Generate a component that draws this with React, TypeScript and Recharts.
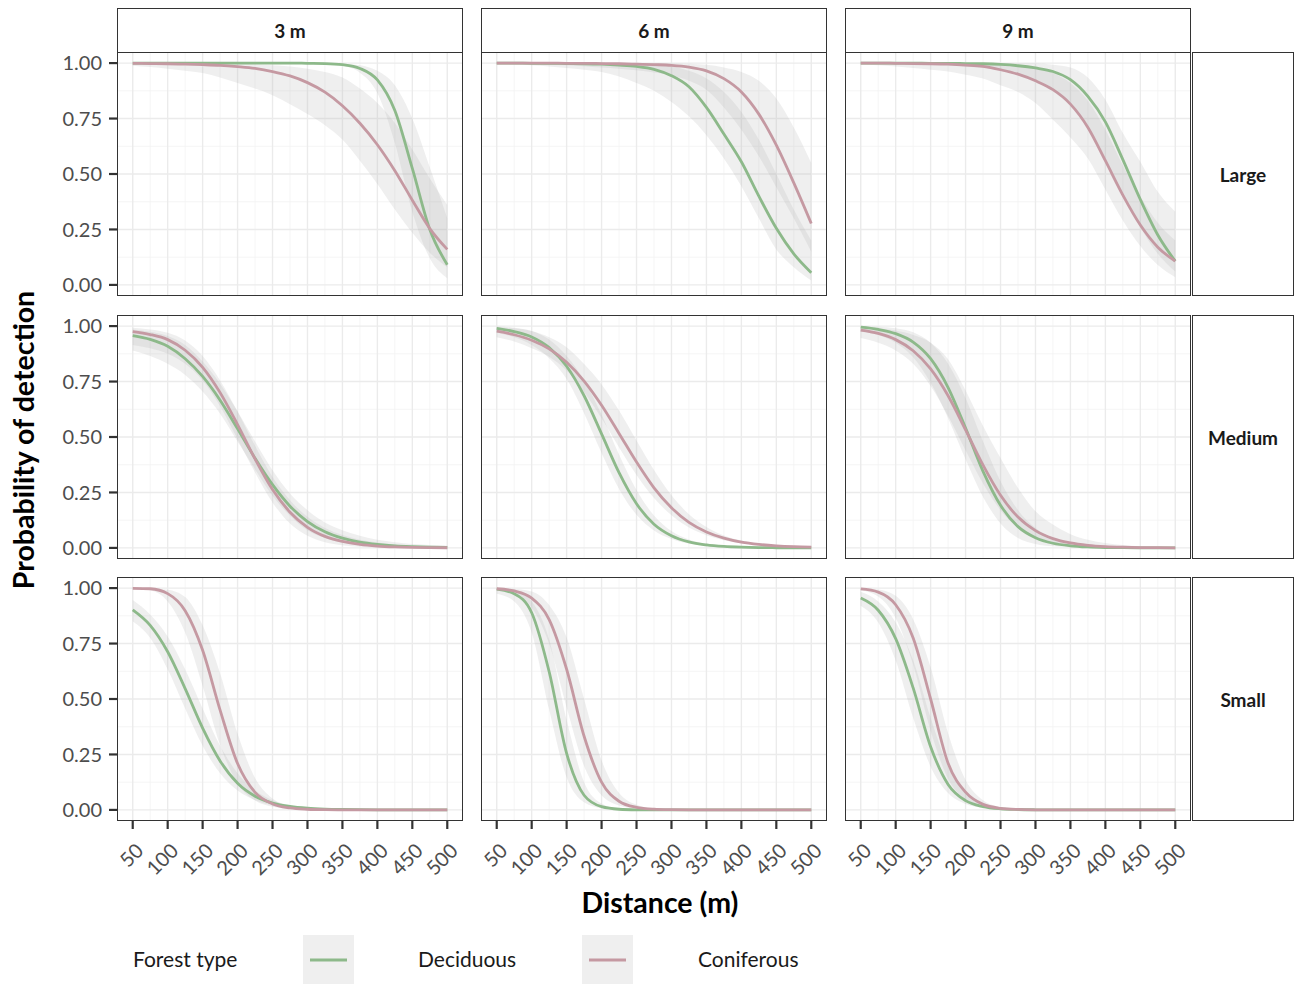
import React from "react";
import { ComposedChart, Line, Area, XAxis, YAxis, CartesianGrid } from "recharts";

// Distances (m) at which detection probability is tabulated
const distance = [50, 75, 100, 125, 150, 175, 200, 225, 250, 275, 300, 325, 350, 375, 400, 425, 450, 475, 500];
const distanceTicks = [50, 100, 150, 200, 250, 300, 350, 400, 450, 500];
const distanceMinor = [75, 125, 175, 225, 275, 325, 375, 425, 475];
const probTicks = [0, 0.25, 0.5, 0.75, 1];
const probMinor = [0.125, 0.375, 0.625, 0.875];
const heightLabels = ["3 m", "6 m", "9 m"];
const sizeLabels = ["Large", "Medium", "Small"];
const forestTypes = ["Deciduous", "Coniferous"];

// ---- Large, 3 m
const large3Dec = [1, 1, 1, 1, 1, 1, 1, 1, 1, 1, 0.999, 0.998, 0.993, 0.976, 0.924, 0.786, 0.525, 0.25, 0.091];
const large3DecLo = [1, 1, 1, 1, 1, 1, 1, 1, 1, 1, 0.999, 0.9965, 0.988, 0.957, 0.865, 0.64, 0.33, 0.12, 0.03];
const large3DecHi = [1, 1, 1, 1, 1, 1, 1, 1, 1, 1, 1, 0.999, 0.997, 0.99, 0.965, 0.9, 0.75, 0.53, 0.3];
const large3Con = [0.999, 0.998, 0.997, 0.995, 0.993, 0.99, 0.984, 0.976, 0.962, 0.942, 0.912, 0.869, 0.808, 0.729, 0.632, 0.515, 0.382, 0.254, 0.16];
const large3ConLo = [0.988, 0.982, 0.975, 0.966, 0.955, 0.935, 0.91, 0.885, 0.855, 0.815, 0.77, 0.72, 0.655, 0.56, 0.455, 0.34, 0.235, 0.145, 0.08];
const large3ConHi = [1, 1, 1, 1, 0.999, 0.998, 0.997, 0.995, 0.99, 0.985, 0.975, 0.96, 0.935, 0.885, 0.82, 0.73, 0.61, 0.48, 0.36];

// ---- Large, 6 m
const large6Dec = [1, 1, 0.999, 0.999, 0.998, 0.997, 0.995, 0.991, 0.985, 0.972, 0.943, 0.893, 0.8, 0.68, 0.555, 0.4, 0.255, 0.14, 0.055];
const large6DecLo = [0.998, 0.995, 0.99, 0.985, 0.978, 0.97, 0.96, 0.94, 0.91, 0.875, 0.825, 0.76, 0.675, 0.57, 0.445, 0.3, 0.16, 0.08, 0.02];
const large6DecHi = [1, 1, 1, 1, 1, 1, 1, 0.999, 0.998, 0.995, 0.985, 0.965, 0.93, 0.87, 0.78, 0.655, 0.5, 0.34, 0.2];
const large6Con = [1, 1, 1, 1, 0.999, 0.999, 0.998, 0.997, 0.995, 0.993, 0.99, 0.982, 0.965, 0.93, 0.87, 0.77, 0.63, 0.46, 0.277];
const large6ConLo = [0.999, 0.998, 0.997, 0.994, 0.99, 0.986, 0.98, 0.975, 0.968, 0.958, 0.945, 0.92, 0.88, 0.8, 0.7, 0.58, 0.44, 0.3, 0.15];
const large6ConHi = [1, 1, 1, 1, 1, 1, 1, 1, 1, 1, 0.999, 0.997, 0.992, 0.98, 0.96, 0.92, 0.84, 0.71, 0.55];

// ---- Large, 9 m
const large9Dec = [1, 1, 1, 1, 0.999, 0.999, 0.998, 0.997, 0.994, 0.988, 0.978, 0.962, 0.925, 0.85, 0.735, 0.565, 0.385, 0.225, 0.107];
const large9DecLo = [0.999, 0.998, 0.997, 0.995, 0.993, 0.99, 0.985, 0.978, 0.968, 0.95, 0.925, 0.88, 0.81, 0.71, 0.57, 0.41, 0.26, 0.14, 0.06];
const large9DecHi = [1, 1, 1, 1, 1, 1, 1, 1, 1, 0.999, 0.998, 0.993, 0.98, 0.935, 0.835, 0.685, 0.555, 0.42, 0.33];
const large9Con = [1, 1, 0.999, 0.998, 0.997, 0.995, 0.991, 0.985, 0.97, 0.95, 0.92, 0.88, 0.815, 0.71, 0.56, 0.405, 0.27, 0.17, 0.107];
const large9ConLo = [0.995, 0.99, 0.985, 0.978, 0.97, 0.962, 0.948, 0.93, 0.9, 0.87, 0.82, 0.745, 0.665, 0.57, 0.43, 0.29, 0.175, 0.09, 0.035];
const large9ConHi = [1, 1, 1, 1, 1, 0.999, 0.999, 0.998, 0.997, 0.99, 0.98, 0.955, 0.91, 0.83, 0.7, 0.54, 0.4, 0.28, 0.2];

// ---- Medium, 3 m
const medium3Dec = [0.957, 0.94, 0.909, 0.853, 0.773, 0.666, 0.537, 0.404, 0.285, 0.188, 0.119, 0.073, 0.044, 0.026, 0.0155, 0.009, 0.0054, 0.0031, 0.0018];
const medium3DecLo = [0.89, 0.865, 0.83, 0.78, 0.705, 0.605, 0.48, 0.355, 0.235, 0.145, 0.08, 0.045, 0.024, 0.013, 0.007, 0.004, 0.002, 0.001, 0.0005];
const medium3DecHi = [0.985, 0.974, 0.955, 0.915, 0.84, 0.74, 0.615, 0.48, 0.35, 0.245, 0.17, 0.115, 0.08, 0.055, 0.037, 0.026, 0.018, 0.013, 0.01];
const medium3Con = [0.975, 0.962, 0.939, 0.891, 0.814, 0.7, 0.556, 0.401, 0.263, 0.161, 0.093, 0.052, 0.029, 0.0155, 0.0083, 0.0045, 0.0024, 0.0013, 0.0007];
const medium3ConLo = [0.915, 0.9, 0.875, 0.83, 0.755, 0.64, 0.49, 0.34, 0.205, 0.11, 0.055, 0.026, 0.012, 0.005, 0.002, 0.001, 0.0005, 0.0002, 0.0001];
const medium3ConHi = [0.993, 0.985, 0.97, 0.935, 0.865, 0.755, 0.615, 0.46, 0.32, 0.215, 0.14, 0.09, 0.058, 0.037, 0.024, 0.015, 0.01, 0.006, 0.004];

// ---- Medium, 6 m
const medium6Dec = [0.99, 0.975, 0.951, 0.903, 0.819, 0.686, 0.514, 0.339, 0.199, 0.107, 0.055, 0.027, 0.0135, 0.0066, 0.0032, 0.0015, 0.0008, 0.0004, 0.0002];
const medium6DecLo = [0.97, 0.95, 0.915, 0.855, 0.761, 0.607, 0.428, 0.266, 0.149, 0.078, 0.04, 0.0195, 0.0096, 0.0047, 0.0023, 0.0011, 0.0005, 0.0003, 0.0001];
const medium6DecHi = [0.998, 0.993, 0.978, 0.94, 0.865, 0.756, 0.601, 0.421, 0.261, 0.146, 0.076, 0.038, 0.019, 0.0093, 0.0045, 0.0022, 0.0011, 0.0005, 0.0003];
const medium6Con = [0.977, 0.961, 0.936, 0.897, 0.837, 0.752, 0.643, 0.516, 0.387, 0.271, 0.181, 0.115, 0.072, 0.044, 0.026, 0.0157, 0.0094, 0.0055, 0.0033];
const medium6ConLo = [0.95, 0.93, 0.9, 0.862, 0.8, 0.703, 0.584, 0.453, 0.329, 0.225, 0.147, 0.092, 0.057, 0.034, 0.0206, 0.0123, 0.0073, 0.0043, 0.0026];
const medium6ConHi = [0.995, 0.99, 0.978, 0.95, 0.905, 0.829, 0.737, 0.619, 0.484, 0.351, 0.237, 0.152, 0.094, 0.056, 0.033, 0.0195, 0.0113, 0.0066, 0.0038];

// ---- Medium, 9 m
const medium9Dec = [0.995, 0.985, 0.966, 0.928, 0.853, 0.723, 0.54, 0.345, 0.192, 0.096, 0.046, 0.021, 0.0096, 0.0043, 0.0019, 0.0009, 0.0004, 0.0002, 0.0001];
const medium9DecLo = [0.975, 0.96, 0.925, 0.86, 0.745, 0.585, 0.4, 0.23, 0.11, 0.045, 0.018, 0.007, 0.003, 0.001, 0.0005, 0.0002, 0.0001, 0.0001, 0.0001];
const medium9DecHi = [0.999, 0.997, 0.99, 0.972, 0.925, 0.83, 0.675, 0.48, 0.3, 0.17, 0.09, 0.045, 0.022, 0.01, 0.005, 0.0025, 0.0012, 0.0006, 0.0003];
const medium9Con = [0.982, 0.967, 0.939, 0.889, 0.807, 0.686, 0.532, 0.373, 0.237, 0.139, 0.078, 0.042, 0.0225, 0.0119, 0.0062, 0.0033, 0.0017, 0.0009, 0.0005];
const medium9ConLo = [0.946, 0.925, 0.89, 0.83, 0.73, 0.595, 0.44, 0.29, 0.17, 0.09, 0.045, 0.022, 0.01, 0.005, 0.0022, 0.001, 0.0005, 0.0002, 0.0001];
const medium9ConHi = [0.995, 0.99, 0.98, 0.96, 0.925, 0.85, 0.71, 0.55, 0.405, 0.27, 0.165, 0.105, 0.062, 0.037, 0.022, 0.013, 0.008, 0.005, 0.003];

// ---- Small, 3 m
const small3Dec = [0.902, 0.832, 0.713, 0.547, 0.369, 0.221, 0.12, 0.062, 0.031, 0.0154, 0.0075, 0.0036, 0.0018, 0.0009, 0.0004, 0.0002, 0.0001, 0.0001, 0.0001];
const small3DecLo = [0.85, 0.775, 0.634, 0.457, 0.289, 0.165, 0.087, 0.044, 0.022, 0.0108, 0.0052, 0.0025, 0.0012, 0.0006, 0.0003, 0.0001, 0.0001, 0.0001, 0.0001];
const small3DecHi = [0.946, 0.881, 0.782, 0.634, 0.457, 0.289, 0.165, 0.087, 0.044, 0.022, 0.0108, 0.0052, 0.0025, 0.0012, 0.0006, 0.0003, 0.0002, 0.0001, 0.0001];
const small3Con = [0.999, 0.997, 0.975, 0.898, 0.72, 0.45, 0.209, 0.079, 0.027, 0.009, 0.003, 0.001, 0.0005, 0.0002, 0.0001, 0.0001, 0.0001, 0.0001, 0.0001];
const small3ConLo = [0.998, 0.99, 0.94, 0.8, 0.56, 0.293, 0.119, 0.042, 0.014, 0.0045, 0.0015, 0.0005, 0.0002, 0.0001, 0.0001, 0.0001, 0.0001, 0.0001, 0.0001];
const small3ConHi = [1, 0.999, 0.993, 0.96, 0.832, 0.616, 0.343, 0.144, 0.052, 0.0175, 0.0058, 0.0019, 0.0006, 0.0002, 0.0001, 0.0001, 0.0001, 0.0001, 0.0001];

// ---- Small, 6 m
const small6Dec = [0.995, 0.975, 0.889, 0.623, 0.255, 0.066, 0.0145, 0.003, 0.0006, 0.0001, 0.0001, 0.0001, 0.0001, 0.0001, 0.0001, 0.0001, 0.0001, 0.0001, 0.0001];
const small6DecLo = [0.975, 0.94, 0.8, 0.453, 0.147, 0.034, 0.0073, 0.0015, 0.0003, 0.0001, 0.0001, 0.0001, 0.0001, 0.0001, 0.0001, 0.0001, 0.0001, 0.0001, 0.0001];
const small6DecHi = [0.999, 0.992, 0.941, 0.768, 0.406, 0.125, 0.029, 0.006, 0.0013, 0.0003, 0.0001, 0.0001, 0.0001, 0.0001, 0.0001, 0.0001, 0.0001, 0.0001, 0.0001];
const small6Con = [0.997, 0.987, 0.955, 0.858, 0.634, 0.332, 0.125, 0.039, 0.0115, 0.0033, 0.001, 0.0003, 0.0001, 0.0001, 0.0001, 0.0001, 0.0001, 0.0001, 0.0001];
const small6ConLo = [0.992, 0.973, 0.913, 0.75, 0.463, 0.198, 0.066, 0.0198, 0.0058, 0.0017, 0.0005, 0.0001, 0.0001, 0.0001, 0.0001, 0.0001, 0.0001, 0.0001, 0.0001];
const small6ConHi = [0.999, 0.996, 0.985, 0.924, 0.777, 0.5, 0.223, 0.076, 0.023, 0.0067, 0.0019, 0.0005, 0.0001, 0.0001, 0.0001, 0.0001, 0.0001, 0.0001, 0.0001];

// ---- Small, 9 m
const small9Dec = [0.955, 0.9, 0.772, 0.55, 0.285, 0.115, 0.042, 0.015, 0.005, 0.0018, 0.0006, 0.0002, 0.0001, 0.0001, 0.0001, 0.0001, 0.0001, 0.0001, 0.0001];
const small9DecLo = [0.92, 0.845, 0.675, 0.415, 0.195, 0.076, 0.027, 0.0096, 0.0033, 0.0011, 0.0004, 0.0001, 0.0001, 0.0001, 0.0001, 0.0001, 0.0001, 0.0001, 0.0001];
const small9DecHi = [0.983, 0.94, 0.845, 0.675, 0.415, 0.195, 0.076, 0.027, 0.0096, 0.0033, 0.0011, 0.0004, 0.0001, 0.0001, 0.0001, 0.0001, 0.0001, 0.0001, 0.0001];
const small9Con = [0.996, 0.982, 0.925, 0.775, 0.5, 0.21, 0.08, 0.025, 0.0074, 0.0022, 0.0006, 0.0002, 0.0001, 0.0001, 0.0001, 0.0001, 0.0001, 0.0001, 0.0001];
const small9ConLo = [0.99, 0.962, 0.865, 0.654, 0.357, 0.14, 0.046, 0.014, 0.0041, 0.0012, 0.0004, 0.0001, 0.0001, 0.0001, 0.0001, 0.0001, 0.0001, 0.0001, 0.0001];
const small9ConHi = [0.999, 0.994, 0.965, 0.86, 0.643, 0.346, 0.135, 0.044, 0.013, 0.0039, 0.0012, 0.0004, 0.0001, 0.0001, 0.0001, 0.0001, 0.0001, 0.0001, 0.0001];

type Series = { dec: number[]; decLo: number[]; decHi: number[]; con: number[]; conLo: number[]; conHi: number[] };

// facet grid: rows = target size, columns = height
const facets: Series[][] = [
  [
    { dec: large3Dec, decLo: large3DecLo, decHi: large3DecHi, con: large3Con, conLo: large3ConLo, conHi: large3ConHi },
    { dec: large6Dec, decLo: large6DecLo, decHi: large6DecHi, con: large6Con, conLo: large6ConLo, conHi: large6ConHi },
    { dec: large9Dec, decLo: large9DecLo, decHi: large9DecHi, con: large9Con, conLo: large9ConLo, conHi: large9ConHi },
  ],
  [
    { dec: medium3Dec, decLo: medium3DecLo, decHi: medium3DecHi, con: medium3Con, conLo: medium3ConLo, conHi: medium3ConHi },
    { dec: medium6Dec, decLo: medium6DecLo, decHi: medium6DecHi, con: medium6Con, conLo: medium6ConLo, conHi: medium6ConHi },
    { dec: medium9Dec, decLo: medium9DecLo, decHi: medium9DecHi, con: medium9Con, conLo: medium9ConLo, conHi: medium9ConHi },
  ],
  [
    { dec: small3Dec, decLo: small3DecLo, decHi: small3DecHi, con: small3Con, conLo: small3ConLo, conHi: small3ConHi },
    { dec: small6Dec, decLo: small6DecLo, decHi: small6DecHi, con: small6Con, conLo: small6ConLo, conHi: small6ConHi },
    { dec: small9Dec, decLo: small9DecLo, decHi: small9DecHi, con: small9Con, conLo: small9ConLo, conHi: small9ConHi },
  ],
];

const FONT = "Lato, 'DejaVu Sans', sans-serif";
const DECIDUOUS = "#8db98a";
const CONIFEROUS = "#c599a2";
const RIBBON = "#b0b0b0";
const BORDER = "#333333";

const COL_LEFT = [117, 481, 845];
const ROW_TOP = [52, 315, 577];
const PANEL_W = 346;
const PANEL_H = 244;
const Y_AXIS_W = 117;
const SIDE_PAD = 40;
const TOP_PAD = 14;
const X_AXIS_H = 80;

function buildRows(s: Series) {
  return distance.map((d, i) => ({
    d,
    dec: s.dec[i],
    con: s.con[i],
    decBand: [s.decLo[i], s.decHi[i]],
    conBand: [s.conLo[i], s.conHi[i]],
  }));
}

// x tick labels turned 45 degrees, top-right corner hanging under the tick
const RotatedTick = (props: any) => {
  const { x, y, payload } = props;
  const ax = x + 12;
  const ay = y + 21;
  return (
    <text
      x={ax}
      y={ay}
      transform={`rotate(-45 ${ax} ${ay})`}
      textAnchor="end"
      fill="#4d4d4d"
      fontSize={20}
      fontFamily={FONT}
    >
      {payload.value}
    </text>
  );
};

// y tick labels with two decimals, right-aligned against the tick marks
const ProbTick = (props: any) => {
  const { x, y, payload } = props;
  return (
    <text x={x} y={y} dy="0.36em" textAnchor="end" fill="#4d4d4d" fontSize={20} fontFamily={FONT}>
      {Number(payload.value).toFixed(2)}
    </text>
  );
};

function Panel({ row, col }: { row: number; col: number }) {
  const showY = col === 0;
  const showX = row === 2;
  const leftPad = showY ? Y_AXIS_W : SIDE_PAD;
  const xH = showX ? X_AXIS_H : 0;
  const w = PANEL_W + leftPad;
  const h = TOP_PAD + PANEL_H + xH;
  const rows = buildRows(facets[row][col]);
  return (
    <div
      style={{
        position: "absolute",
        left: COL_LEFT[col] - leftPad,
        top: ROW_TOP[row] - TOP_PAD,
        width: w,
        height: h,
      }}
    >
      <ComposedChart
        width={w}
        height={h}
        data={rows}
        margin={{ top: TOP_PAD, right: 0, bottom: 0, left: showY ? 0 : SIDE_PAD }}
      >
        <CartesianGrid horizontalValues={probMinor} verticalValues={distanceMinor} stroke="#f3f3f3" strokeWidth={0.8} />
        <CartesianGrid horizontalValues={probTicks} verticalValues={distanceTicks} stroke="#ebebeb" strokeWidth={1.4} />
        <XAxis
          dataKey="d"
          type="number"
          domain={[27.5, 522.5]}
          ticks={distanceTicks}
          hide={!showX}
          height={xH}
          axisLine={false}
          tickSize={8}
          tickLine={{ stroke: BORDER, strokeWidth: 2.2 }}
          tick={<RotatedTick />}
          interval={0}
        />
        <YAxis
          type="number"
          domain={[-0.05, 1.05]}
          ticks={probTicks}
          hide={!showY}
          width={showY ? Y_AXIS_W : 0}
          axisLine={false}
          tickSize={8}
          tickMargin={7}
          tickLine={{ stroke: BORDER, strokeWidth: 2.2 }}
          tick={<ProbTick />}
          interval={0}
        />
        <Area type="monotone" dataKey="decBand" fill={RIBBON} fillOpacity={0.2} stroke="none" isAnimationActive={false} />
        <Area type="monotone" dataKey="conBand" fill={RIBBON} fillOpacity={0.2} stroke="none" isAnimationActive={false} />
        <Line type="monotone" dataKey="dec" stroke={DECIDUOUS} strokeWidth={2.8} dot={false} isAnimationActive={false} />
        <Line type="monotone" dataKey="con" stroke={CONIFEROUS} strokeWidth={2.8} dot={false} isAnimationActive={false} />
      </ComposedChart>
      <div
        style={{
          position: "absolute",
          left: leftPad,
          top: TOP_PAD,
          width: PANEL_W,
          height: PANEL_H,
          border: `1.5px solid ${BORDER}`,
          boxSizing: "border-box",
          pointerEvents: "none",
        }}
      />
    </div>
  );
}

const stripStyle: React.CSSProperties = {
  position: "absolute",
  border: `1.5px solid ${BORDER}`,
  boxSizing: "border-box",
  background: "#ffffff",
  display: "flex",
  alignItems: "center",
  justifyContent: "center",
  fontFamily: FONT,
  fontWeight: 700,
  fontSize: 19,
  color: "#1a1a1a",
};

export default function App() {
  return (
    <div style={{ position: "fixed", left: 0, top: 0, width: 1300, height: 984, background: "#ffffff", overflow: "hidden" }}>
      {[0, 1, 2].map((r) => [0, 1, 2].map((c) => <Panel key={`${r}-${c}`} row={r} col={c} />))}
      {heightLabels.map((lab, c) => (
        <div key={lab} style={{ ...stripStyle, left: COL_LEFT[c], top: 8, width: PANEL_W, height: 45 }}>
          {lab}
        </div>
      ))}
      {sizeLabels.map((lab, r) => (
        <div key={lab} style={{ ...stripStyle, left: 1192, top: ROW_TOP[r], width: 102, height: PANEL_H }}>
          {lab}
        </div>
      ))}

      {/* axis titles */}
      <svg style={{ position: "absolute", left: 400, top: 880, pointerEvents: "none" }} width={520} height={44}>
        <text x={260} y={33} textAnchor="middle" fontFamily={FONT} fontWeight={700} fontSize={28.5} fill="#000">
          Distance (m)
        </text>
      </svg>
      <svg style={{ position: "absolute", left: 0, top: 240, pointerEvents: "none" }} width={50} height={400}>
        <text
          x={34}
          y={200}
          transform="rotate(-90 34 200)"
          textAnchor="middle"
          fontFamily={FONT}
          fontWeight={700}
          fontSize={28.5}
          fill="#000"
        >
          Probability of detection
        </text>
      </svg>

      {/* legend */}
      <svg style={{ position: "absolute", left: 0, top: 920, pointerEvents: "none" }} width={1300} height={64}>
        <text x={133} y={47} fontFamily={FONT} fontSize={21} fill="#1a1a1a">
          Forest type
        </text>
        {[DECIDUOUS, CONIFEROUS].map((col, i) => {
          const kx = i === 0 ? 303 : 582;
          const tx = i === 0 ? 418 : 698;
          return (
            <g key={forestTypes[i]}>
              <rect x={kx} y={15} width={51} height={60} fill="#b0b0b0" fillOpacity={0.2} />
              <line x1={kx + 7} x2={kx + 44} y1={40} y2={40} stroke={col} strokeWidth={2.8} />
              <text x={tx} y={47} fontFamily={FONT} fontSize={21} fill="#1a1a1a">
                {forestTypes[i]}
              </text>
            </g>
          );
        })}
      </svg>
    </div>
  );
}
